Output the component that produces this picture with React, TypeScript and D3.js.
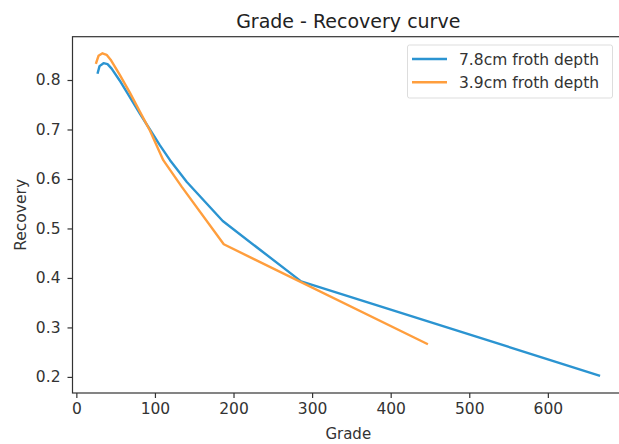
import React, { useEffect, useRef } from "react";
import * as d3 from "d3";

// values
const deepGrade = [27.3, 29.5, 34.6, 39.7, 44.9, 55.1, 67.9, 80.8, 93.6, 106.4, 119.2, 140.6, 186.3, 286, 665];
const deepRecovery = [0.815, 0.828, 0.834, 0.832, 0.823, 0.799, 0.766, 0.732, 0.7, 0.668, 0.638, 0.594, 0.515, 0.393, 0.203];

const shallowGrade = [25.3, 28.2, 33.3, 38.5, 43.6, 55.1, 67.9, 80.8, 93.6, 110.6, 134.2, 187.6, 446];
const shallowRecovery = [0.835, 0.849, 0.854, 0.851, 0.841, 0.811, 0.775, 0.736, 0.698, 0.638, 0.584, 0.468, 0.267];

const seriesNames = ["7.8cm froth depth", "3.9cm froth depth"];
const seriesColors = ["#2b94d1", "#ff9e3d"];

const xTicks = [0, 100, 200, 300, 400, 500, 600];
const yTicks = [0.2, 0.3, 0.4, 0.5, 0.6, 0.7, 0.8];

const width = 619;
const height = 444;
const font = "DejaVu Sans, sans-serif";

const App = () => {
    const ref = useRef<SVGSVGElement>(null);

    useEffect(() => {
        const svg = d3.select(ref.current);
        svg.selectAll("*").remove();

        const left = 72.5, right = 624, top = 36.7, bottom = 393;

        const x = d3.scaleLinear().domain([-4.9, 696.9]).range([left, right]);
        const y = d3.scaleLinear().domain([0.1675, 0.8875]).range([bottom, top]);

        const g = svg.append("g");

        // spines
        g.append("rect")
            .attr("x", left).attr("y", top)
            .attr("width", right - left).attr("height", bottom - top)
            .attr("fill", "none").attr("stroke", "#333").attr("stroke-width", 1.2);

        const xAxis = g.append("g")
            .attr("transform", `translate(0,${bottom})`)
            .call(d3.axisBottom(x).tickValues(xTicks).tickSize(5).tickPadding(5).tickFormat(d3.format("d")));
        const yAxis = g.append("g")
            .attr("transform", `translate(${left},0)`)
            .call(d3.axisLeft(y).tickValues(yTicks).tickSize(5).tickPadding(7).tickFormat(d3.format(".1f")));
        [xAxis, yAxis].forEach(a => {
            a.select(".domain").remove();
            a.selectAll("line").attr("stroke", "#333").attr("stroke-width", 1.2);
            a.selectAll("text").attr("fill", "#333").style("font-family", font).style("font-size", "15.5px");
        });

        const line = d3.line<[number, number]>()
            .x(d => x(d[0]))
            .y(d => y(d[1]));

        const series: [number, number][][] = [
            deepGrade.map((v, i) => [v, deepRecovery[i]]),
            shallowGrade.map((v, i) => [v, shallowRecovery[i]]),
        ];

        series.forEach((s, i) => {
            g.append("path")
                .datum(s)
                .attr("d", line)
                .attr("fill", "none")
                .attr("stroke", seriesColors[i])
                .attr("stroke-width", 2.4)
                .attr("stroke-linejoin", "round")
                .attr("stroke-linecap", "square");
        });

        // title and labels
        g.append("text")
            .attr("x", (left + right) / 2).attr("y", 28)
            .attr("text-anchor", "middle")
            .style("font-family", font).style("font-size", "19px").attr("fill", "#222")
            .text("Grade - Recovery curve");
        g.append("text")
            .attr("x", (left + right) / 2).attr("y", 439)
            .attr("text-anchor", "middle")
            .style("font-family", font).style("font-size", "15px").attr("fill", "#333")
            .text("Grade");
        g.append("text")
            .attr("transform", `translate(26,${(top + bottom) / 2}) rotate(-90)`)
            .attr("text-anchor", "middle")
            .style("font-family", font).style("font-size", "15.5px").attr("fill", "#333")
            .text("Recovery");

        // legend
        const legend = g.append("g");
        legend.append("rect")
            .attr("x", 407.5).attr("y", 45)
            .attr("width", 205).attr("height", 53)
            .attr("rx", 2)
            .attr("fill", "#fff").attr("stroke", "#ddd");
        seriesNames.forEach((name, i) => {
            const ly = 59 + i * 23.3;
            legend.append("line")
                .attr("x1", 412).attr("x2", 447)
                .attr("y1", ly).attr("y2", ly)
                .attr("stroke", seriesColors[i]).attr("stroke-width", 2.4);
            legend.append("text")
                .attr("x", 459).attr("y", ly + 5.5)
                .style("font-family", font).style("font-size", "15.5px").attr("fill", "#333")
                .text(name);
        });
    }, []);

    return (
        <svg ref={ref} width={width} height={height}
            style={{ position: "absolute", left: 0, top: 0, background: "#fff", overflow: "hidden" }} />
    );
};

export default App;
